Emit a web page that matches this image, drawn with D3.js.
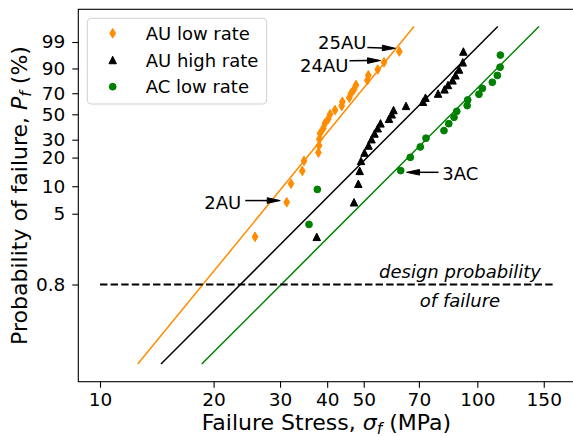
<!DOCTYPE html>
<html><head><meta charset="utf-8">
<script src="https://cdn.jsdelivr.net/npm/d3@7"></script>
<style>
body{margin:0;background:#fff}
svg{display:block;font-family:"DejaVu Sans",sans-serif}
</style>
</head><body>
<svg id="c" width="573" height="437"></svg>
<script>
// ---- data ----
const seriesNames = ["AU low rate", "AU high rate", "AC low rate"];
const auLowStress = [25.75, 31.25, 32.08, 34.37, 34.73, 37.91, 38.06, 38.13, 38.30, 39.07, 39.48, 40.28, 40.70, 41.96, 43.71, 43.87, 45.78, 46.26, 47.11, 47.69, 51.11, 51.42, 54.45, 56.58, 62.13];
const auLowProb   = [2.76, 6.69, 10.63, 14.57, 18.50, 22.44, 26.38, 30.31, 34.25, 38.19, 42.13, 46.06, 50.00, 53.94, 57.87, 61.81, 65.75, 69.69, 73.62, 77.56, 81.50, 85.43, 89.37, 93.31, 97.24];
const auHighStress = [37.53, 47.12, 48.37, 48.79, 49.18, 50.23, 51.48, 52.44, 53.40, 54.45, 55.39, 58.34, 59.31, 59.97, 64.72, 71.78, 72.88, 78.70, 81.86, 83.62, 85.96, 87.54, 89.44, 91.50, 91.84];
const auHighProb   = [2.76, 6.69, 10.63, 14.57, 18.50, 22.44, 26.38, 30.31, 34.25, 38.19, 42.13, 46.06, 50.00, 53.94, 57.87, 61.81, 65.75, 69.69, 73.62, 77.56, 81.50, 85.43, 89.37, 93.31, 97.24];
const acLowStress = [35.80, 37.67, 62.66, 66.44, 70.62, 73.11, 81.59, 84.01, 86.77, 88.20, 94.00, 94.30, 101.0, 103.1, 109.6, 113.0, 114.9, 115.1];
const acLowProb   = [3.80, 9.24, 14.67, 20.11, 25.54, 30.98, 36.41, 41.85, 47.28, 52.72, 58.15, 63.59, 69.02, 74.46, 79.89, 85.33, 90.76, 96.20];
// Weibull fit lines: stress at the two end probabilities
const fitProb = [0.1, 99.9];
const fitStressStart = [12.59, 14.51, 18.60];
const fitStressEnd   = [67.96, 113.3, 145.7];
// design probability of failure
const designProb = 0.8;
const designStress = [10, 159];
const xTickValues = [10, 20, 30, 40, 50, 70, 100, 150];
const yTickValues = [0.8, 5, 10, 20, 30, 50, 70, 90, 99];
const yTickLabels = ["0.8", "5", "10", "20", "30", "50", "70", "90", "99"];
const annotLabels = ["2AU", "25AU", "24AU", "3AC"];

// ---- layout ----
const colors = ["#ff8c00", "#000000", "#008000"];
const L = 78.3, R = 574.5, T = 9.3, B = 381.7;
const svg = d3.select("#c");

const x = d3.scaleLog().domain([8.759, 180.4]).range([L, 574]);
const weib = p => Math.log(-Math.log(1 - p / 100));
const yW = d3.scaleLinear().domain([-7.370, 2.384]).range([B, T]);
const y = p => yW(weib(p));

// axes
const xAxis = d3.axisBottom(x).tickValues(xTickValues).tickFormat(d3.format("d"))
  .tickSizeInner(6).tickSizeOuter(0).tickPadding(5.5);
const gx = svg.append("g").attr("transform", `translate(0,${B})`).call(xAxis);
gx.select(".domain").remove();
gx.selectAll("text").attr("font-size", 18.5).attr("font-family", "DejaVu Sans").attr("fill", "#000");
gx.selectAll("line").attr("stroke", "#000").attr("stroke-width", 1.1);

const yAxis = d3.axisLeft(yW).tickValues(yTickValues.map(weib))
  .tickFormat((d, i) => yTickLabels[i]).tickSizeInner(6).tickSizeOuter(0).tickPadding(7);
const gy = svg.append("g").attr("transform", `translate(${L},0)`).call(yAxis);
gy.select(".domain").remove();
gy.selectAll("text").attr("font-size", 18.5).attr("font-family", "DejaVu Sans").attr("fill", "#000");
gy.selectAll("line").attr("stroke", "#000").attr("stroke-width", 1.1);

// frame
svg.append("rect").attr("x", L).attr("y", T).attr("width", R - L).attr("height", B - T)
  .attr("fill", "none").attr("stroke", "#000").attr("stroke-width", 1.1);

// fit lines
const plot = svg.append("g");
fitStressStart.forEach((s0, k) => {
  plot.append("line")
    .attr("x1", x(s0)).attr("y1", y(fitProb[0]))
    .attr("x2", x(fitStressEnd[k])).attr("y2", y(fitProb[1]))
    .attr("stroke", colors[k]).attr("stroke-width", 1.5);
});

// design line
plot.append("line")
  .attr("x1", x(designStress[0])).attr("x2", x(designStress[1]))
  .attr("y1", y(designProb)).attr("y2", y(designProb))
  .attr("stroke", "#000").attr("stroke-width", 2).attr("stroke-dasharray", "7.4,3.2");

// markers
const s = 6.8;
const markerPath = [
  `M0,${-s*0.707}L${s*0.424},0L0,${s*0.707}L${-s*0.424},0Z`,
  `M0,${-s*0.55}L${s*0.55},${s*0.55}L${-s*0.55},${s*0.55}Z`,
  null
];
function drawMarker(g, k, cx, cy) {
  if (k === 2) {
    g.append("circle").attr("cx", cx).attr("cy", cy).attr("r", s / 2)
      .attr("fill", colors[k]).attr("stroke", colors[k]).attr("stroke-width", 1);
  } else {
    g.append("path").attr("d", markerPath[k]).attr("transform", `translate(${cx},${cy})`)
      .attr("fill", colors[k]).attr("stroke", colors[k]).attr("stroke-width", 1);
  }
}
const series = [[auLowStress, auLowProb], [auHighStress, auHighProb], [acLowStress, acLowProb]];
series.forEach(([st, pr], k) => {
  st.forEach((v, i) => drawMarker(plot, k, x(v), y(pr[i])));
});

// annotations
function arrow(x1, y1, x2, y2) {
  const g = svg.append("g");
  const ang = Math.atan2(y2 - y1, x2 - x1), hl = 13, hw = 2.8;
  const bx = x2 - hl * Math.cos(ang), by = y2 - hl * Math.sin(ang);
  g.append("line").attr("x1", x1).attr("y1", y1).attr("x2", bx).attr("y2", by)
    .attr("stroke", "#000").attr("stroke-width", 1.5);
  const px = -Math.sin(ang) * hw, py = Math.cos(ang) * hw;
  g.append("path").attr("d", `M${x2},${y2}L${bx + px},${by + py}L${bx - px},${by - py}Z`)
    .attr("fill", "#000").attr("stroke", "#000").attr("stroke-width", 1);
}
function annot(label, tx, ty, anchor, ax1, ay1, ax2, ay2) {
  svg.append("text").attr("x", tx).attr("y", ty).attr("text-anchor", anchor)
    .attr("font-size", 18).text(label);
  arrow(ax1, ay1, ax2, ay2);
}
// target points
const p2 = [x(auLowStress[1]), y(auLowProb[1])];
const p25 = [x(auLowStress[24]), y(auLowProb[24])];
const p24 = [x(auLowStress[23]), y(auLowProb[23])];
const p3c = [x(acLowStress[2]), y(acLowProb[2])];
annot(annotLabels[0], p2[0] - 45.5, p2[1] + 6.3, "end", p2[0] - 41.5, p2[1] - 1.7, p2[0] - 6.5, p2[1] - 1.7);
annot(annotLabels[1], p25[0] - 32.8, p25[1] - 2.8, "end", p25[0] - 32, p25[1] - 4, p25[0] - 4, p25[1] - 3.2);
annot(annotLabels[2], p24[0] - 35.5, p24[1] + 9.2, "end", p24[0] - 34.5, p24[1] - 1.6, p24[0] - 3.5, p24[1] - 1.8);
annot(annotLabels[3], p3c[0] + 41.6, p3c[1] + 9.4, "start", p3c[0] + 37.8, p3c[1] + 1.7, p3c[0] + 5.8, p3c[1] + 1.7);

// design probability label
const dl = svg.append("text").attr("font-size", 18).attr("font-style", "italic").attr("text-anchor", "middle");
dl.append("tspan").attr("x", 460).attr("y", 277.5).text("design probability");
dl.append("tspan").attr("x", 460).attr("y", 306.5).text("of failure");

// axis labels
const xl = svg.append("text").attr("x", (L + R) / 2).attr("y", 430).attr("text-anchor", "middle").attr("font-size", 22);
xl.append("tspan").text("Failure Stress, ");
xl.append("tspan").attr("font-style", "italic").text("σ");
xl.append("tspan").attr("font-style", "italic").attr("font-size", 15.5).attr("dy", 4).text("f");
xl.append("tspan").attr("dy", -4).text(" (MPa)");

const yl = svg.append("text").attr("transform", `translate(27,${(T + B) / 2}) rotate(-90)`)
  .attr("text-anchor", "middle").attr("font-size", 22);
yl.append("tspan").text("Probability of failure, ");
yl.append("tspan").attr("font-style", "italic").text("P");
yl.append("tspan").attr("font-style", "italic").attr("font-size", 15.5).attr("dy", 4).text("f");
yl.append("tspan").attr("dy", -4).text(" (%)");

// legend
const lg = svg.append("g");
lg.append("rect").attr("x", 87.3).attr("y", 18.3).attr("width", 179.4).attr("height", 85.7)
  .attr("rx", 4).attr("fill", "#fff").attr("fill-opacity", 0.8).attr("stroke", "#d0d0d0").attr("stroke-width", 1);
seriesNames.forEach((name, k) => {
  const ry = 33.3 + k * 26.7;
  drawMarker(lg, k, 112.7, ry);
  lg.append("text").attr("x", 145.7).attr("y", ry + 6.6).attr("font-size", 18).text(name);
});
</script>
</body></html>
